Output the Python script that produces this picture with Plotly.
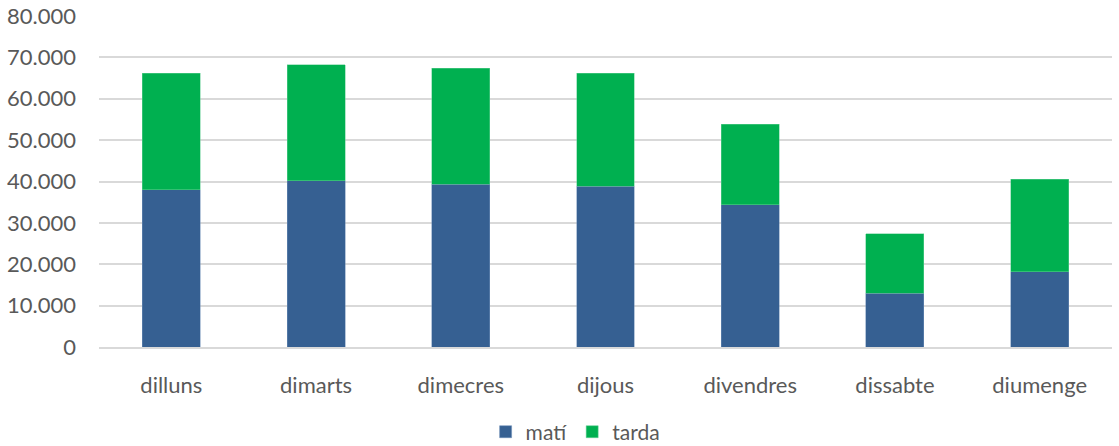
import plotly.graph_objects as go

days = ["dilluns", "dimarts", "dimecres", "dijous", "divendres", "dissabte", "diumenge"]
mati = [38000, 40200, 39300, 38800, 34400, 13000, 18200]
tarda = [28200, 28000, 28100, 27400, 19400, 14400, 22400]
y_ticks = [0, 10000, 20000, 30000, 40000, 50000, 60000, 70000, 80000]

fig = go.Figure()
fig.add_trace(go.Bar(x=days, y=mati, name="matí", marker=dict(color="#366092", line=dict(color="#6f8fb8", width=0.5))))
fig.add_trace(go.Bar(x=days, y=tarda, name="tarda", marker=dict(color="#00b050", line=dict(color="#66d096", width=0.5))))

fig.update_layout(
    barmode="stack",
    bargap=0.6,
    width=1119, height=446,
    margin=dict(l=99, r=7, t=16, b=99, autoexpand=False),
    paper_bgcolor="white", plot_bgcolor="white",
    separators=",.",
    font=dict(family="Lato, Open Sans, sans-serif", size=22, color="#595959"),
    showlegend=True,
    legend=dict(orientation="h", x=0.470, xanchor="center", y=-0.257, yanchor="middle",
                font=dict(size=21, color="#595959"), itemwidth=30, traceorder="normal"),
)
fig.update_yaxes(range=[0, 80000], tickvals=y_ticks, tickformat=",d", showgrid=True,
                 gridcolor="#d9d9d9", gridwidth=1.5, zeroline=False, ticks="", ticklen=0,
                 ticklabelstandoff=22, automargin=False, ticklabeloverflow="allow")
fig.update_xaxes(showline=True, linecolor="#d9d9d9", linewidth=1.5, ticks="",
                 ticklabelstandoff=18, automargin=False, ticklabeloverflow="allow")

fig.write_html("out.html", config={"displayModeBar": False},
               post_script="document.body.style.margin='0';document.body.style.overflow='hidden';")
